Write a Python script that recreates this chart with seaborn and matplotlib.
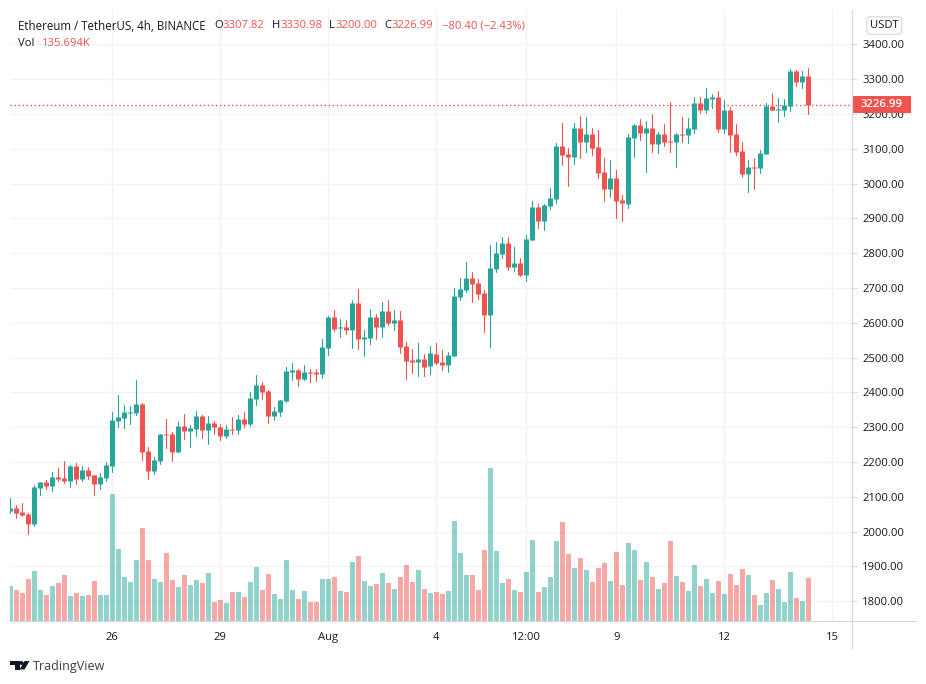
import matplotlib
matplotlib.use("Agg")
import matplotlib.pyplot as plt
from matplotlib.patches import FancyBboxPatch, Polygon, Circle, Rectangle
import numpy as np
import pandas as pd
import seaborn as sns

# ==== data (ETH/USDT, 4h candles) ====
opens = [2058, 2067, 2056, 2050, 2021, 2125, 2142, 2130, 2156, 2153, 2145, 2188, 2150, 2176, 2162, 2136, 2153,
         2188, 2317, 2326, 2340, 2340, 2366, 2231, 2173, 2202, 2280, 2280, 2228, 2303, 2288, 2294, 2331, 2291, 2311,
         2301, 2275, 2295, 2292, 2324, 2310, 2381, 2422, 2404, 2333, 2344, 2376, 2459, 2465, 2439, 2459, 2459, 2453,
         2528, 2617, 2585, 2588, 2580, 2657, 2554, 2557, 2617, 2588, 2634, 2600, 2608, 2534, 2494, 2488, 2496,
         2475, 2510, 2487, 2478, 2504, 2673, 2694, 2728, 2714, 2685, 2622, 2754, 2797, 2829, 2760, 2771, 2737,
         2837, 2932, 2892, 2935, 2955, 3107, 3084, 3076, 3161, 3118, 3141, 3104, 3033, 2984, 3015, 2952,
         2941, 3131, 3168, 3145, 3160, 3114, 3142, 3122, 3119, 3142, 3140, 3157, 3231, 3211, 3243, 3249, 3157, 3211,
         3142, 3094, 3027, 3048, 3045, 3085, 3223, 3211, 3211, 3223, 3323, 3292, 3307.82]
highs = [2096, 2076, 2081, 2053, 2133, 2142, 2148, 2171, 2182, 2202, 2191, 2196, 2188, 2185, 2162, 2168, 2199,
         2343, 2392, 2363, 2360, 2435, 2369, 2242, 2214, 2280, 2323, 2285, 2314, 2337, 2306, 2346, 2334, 2331, 2317,
         2310, 2307, 2330, 2335, 2344, 2402, 2450, 2430, 2407, 2358, 2379, 2473, 2485, 2468, 2479, 2468, 2468, 2554,
         2620, 2637, 2611, 2608, 2666, 2698, 2580, 2640, 2626, 2660, 2666, 2637, 2634, 2545, 2525, 2542, 2511,
         2533, 2541, 2521, 2515, 2699, 2728, 2774, 2745, 2725, 2694, 2823, 2831, 2846, 2846, 2817, 2785, 2852,
         2949, 2941, 2941, 2987, 3116, 3173, 3102, 3173, 3193, 3190, 3161, 3153, 3073, 3067, 3038, 2967,
         3142, 3171, 3185, 3180, 3200, 3148, 3171, 3234, 3145, 3191, 3188, 3249, 3249, 3275, 3257, 3266, 3240, 3220,
         3171, 3119, 3068, 3073, 3096, 3231, 3260, 3246, 3243, 3329, 3326, 3323, 3330.98]
lows = [2054, 2039, 2045, 1992, 2015, 2104, 2122, 2116, 2145, 2139, 2127, 2136, 2145, 2150, 2104, 2122, 2145,
        2171, 2300, 2297, 2308, 2334, 2205, 2150, 2165, 2194, 2240, 2202, 2228, 2265, 2242, 2274, 2268, 2251, 2280,
        2264, 2269, 2281, 2281, 2301, 2304, 2364, 2381, 2312, 2321, 2333, 2373, 2436, 2419, 2436, 2430, 2433, 2442,
        2508, 2577, 2560, 2568, 2528, 2525, 2505, 2540, 2554, 2560, 2594, 2580, 2514, 2439, 2456, 2448, 2448,
        2452, 2481, 2464, 2458, 2504, 2665, 2688, 2659, 2668, 2573, 2530, 2745, 2785, 2751, 2748, 2734, 2719,
        2837, 2872, 2866, 2926, 2944, 3053, 2992, 3056, 3072, 3092, 3081, 3015, 2949, 2961, 2900, 2892,
        2930, 3076, 3125, 3033, 3091, 3088, 3108, 3091, 3048, 3119, 3117, 3145, 3203, 3203, 3217, 3148, 3145, 3091,
        3082, 3019, 2976, 2984, 3030, 3085, 3211, 3177, 3194, 3208, 3280, 3275, 3200.00]
closes = [2067, 2054, 2047, 2021, 2127, 2142, 2130, 2156, 2150, 2145, 2188, 2150, 2176, 2159, 2136, 2156, 2191,
          2320, 2329, 2343, 2343, 2366, 2228, 2173, 2205, 2280, 2277, 2228, 2303, 2288, 2297, 2331, 2291, 2311, 2300,
          2275, 2295, 2292, 2324, 2310, 2384, 2422, 2402, 2333, 2347, 2379, 2462, 2465, 2439, 2459, 2456, 2453, 2531,
          2617, 2583, 2588, 2580, 2657, 2554, 2560, 2617, 2588, 2634, 2600, 2608, 2531, 2491, 2488, 2496, 2473,
          2512, 2484, 2478, 2507, 2676, 2696, 2728, 2711, 2682, 2622, 2757, 2800, 2829, 2760, 2771, 2737, 2840,
          2932, 2892, 2938, 2958, 3107, 3081, 3076, 3161, 3118, 3141, 3101, 3030, 2984, 3015, 2949, 2944,
          3134, 3168, 3145, 3160, 3114, 3142, 3119, 3119, 3142, 3140, 3160, 3231, 3211, 3246, 3249, 3157, 3211, 3140,
          3091, 3027, 3048, 3045, 3088, 3223, 3211, 3214, 3226, 3323, 3292, 3309, 3226.99]
# thousands
volumes = [111, 98, 89, 133, 158, 98, 82, 111, 120, 145, 79, 89, 79, 82, 126, 82, 82,
           399, 227, 139, 123, 192, 292, 192, 133, 123, 214, 129, 108, 145, 114, 129, 120, 151, 61,
           67, 57, 92, 92, 76, 123, 170, 98, 148, 86, 70, 192, 98, 70, 95, 61, 61, 133,
           133, 139, 95, 92, 186, 205, 126, 111, 117, 151, 120, 101, 139, 176, 123, 161, 101,
           89, 92, 86, 95, 314, 214, 145, 145, 98, 223, 480, 220, 120, 133, 98, 92, 155,
           255, 92, 108, 139, 252, 311, 211, 167, 198, 161, 123, 167, 183, 126, 217, 114,
           245, 223, 129, 186, 139, 101, 120, 252, 142, 123, 95, 176, 111, 133, 89, 126, 86, 148,
           114, 164, 145, 82, 51, 89, 129, 101, 61, 155, 73, 64, 135.694]
price_ticks = [1800, 1900, 2000, 2100, 2200, 2300, 2400, 2500, 2600, 2700, 2800, 2900, 3000, 3100, 3200, 3300, 3400]
time_ticks = [17, 35, 53, 71, 86, 101, 119, 137]
time_labels = ["26", "29", "Aug", "4", "12:00", "9", "12", "15"]
last_close = 3226.99

UP = "#26a69a"
DOWN = "#ef5350"
GRID = "#f1f2f4"
AXIS = "#d6d9e0"
INK = "#131722"
FONT = "Open Sans"

sns.set_theme(style="white")
plt.rcParams["font.family"] = [FONT, "DejaVu Sans"]

n = len(closes)
candles = pd.DataFrame({"idx": np.arange(n), "open": opens, "high": highs, "low": lows,
                        "close": closes, "volume": volumes})
candles["dir"] = np.where(candles["close"] >= candles["open"], "up", "down")
palette = {"up": UP, "down": DOWN}

# long form for lineplot: each candle is one vertical line
wicks = candles.melt(id_vars=["idx", "dir"], value_vars=["low", "high"], value_name="price")
bodies = candles.melt(id_vars=["idx", "dir"], value_vars=["open", "close"], value_name="price")

fig = plt.figure(figsize=(9.26, 6.84), dpi=100, facecolor="white")
W, H = 926, 684
ax = fig.add_axes([10 / W, (H - 621.3) / H, 842.3 / W, 611.3 / H])
ax_vol = ax.twinx()

sns.lineplot(data=wicks, x="idx", y="price", hue="dir", units="idx", estimator=None, sort=False,
             palette=palette, linewidth=0.8, legend=False, ax=ax)
sns.lineplot(data=bodies, x="idx", y="price", hue="dir", units="idx", estimator=None, sort=False,
             palette=palette, linewidth=3.6, solid_capstyle="butt", legend=False, ax=ax)
# seaborn's style puts white edges on patches, they would eat the bar width
sns.barplot(data=candles, x="idx", y="volume", hue="dir", palette=palette, native_scale=True, dodge=False,
            width=0.83, alpha=0.5, saturation=1, linewidth=0, edgecolor="none", legend=False, ax=ax_vol)

# dotted last price line
ax.axhline(last_close, color=DOWN, linewidth=1.0, linestyle=(0, (1, 1.9)), zorder=1)

ax.set_xlim(-0.055, 140.33)
ax.set_ylim(1742.5, 3498.6)
ax_vol.set_ylim(0, 1914.6)
ax_vol.set_yticks([])
ax_vol.set_ylabel("")
ax_vol.set_xlabel("")
ax_vol.patch.set_visible(False)
ax.set_xlabel("")
ax.set_ylabel("")

ax.yaxis.tick_right()
ax.set_yticks(price_ticks, [f"{p:.2f}" for p in price_ticks])
ax.set_xticks(time_ticks, time_labels)
ax.tick_params(axis="y", length=3.6, width=0.8, color=AXIS, labelcolor=INK, labelsize=8.1, pad=3.5)
ax.tick_params(axis="x", length=3, width=0.8, color=AXIS, labelcolor=INK, labelsize=8.1, pad=5)
ax.grid(True, color=GRID, linewidth=1.0)
ax.set_axisbelow(True)
for ax_ in (ax, ax_vol):
    for side in ("top", "left", "bottom", "right"):
        ax_.spines[side].set_visible(False)

# overlay in pixels for the chart furniture
ui = fig.add_axes([0, 0, 1, 1], zorder=5)
ui.set_xlim(0, W)
ui.set_ylim(H, 0)
ui.axis("off")
ui.plot([10, 915.7], [621.3, 621.3], color=AXIS, linewidth=0.9)
ui.plot([852.3, 852.3], [10, 648.7], color=AXIS, linewidth=0.9)

# last price tag
ui.add_patch(Rectangle((852, 96.3), 59, 16.6, facecolor=DOWN, edgecolor="none"))
ui.text(881.5, 104.4, f"{last_close:.2f}", color="white", fontsize=8.1, fontweight="semibold", ha="center", va="center")

# currency button
ui.add_patch(FancyBboxPatch((869, 19), 30.5, 13, boxstyle="round,pad=2.2,rounding_size=3.5",
                            facecolor="white", edgecolor="#d6d9e0", linewidth=0.9))
ui.text(884.2, 25.7, "USDT", color=INK, fontsize=8.1, ha="center", va="center")

# header
LEG_Y = 26
ui.text(18, LEG_Y, "Ethereum / TetherUS, 4h, BINANCE", color=INK, fontsize=8.3, va="center")
for x, label, val in [(214, "O", "3307.82"), (272, "H", "3330.98"), (329, "L", "3200.00"), (384, "C", "3226.99")]:
    ui.text(x, LEG_Y, label, color=INK, fontsize=8.1, va="center")
    ui.text(x + {"O": 8.5, "H": 8.5, "L": 6.5, "C": 7.5}[label], LEG_Y, val, color=DOWN, fontsize=8.1, va="center")
ui.text(442, LEG_Y, "\u221280.40 (\u22122.43%)", color=DOWN, fontsize=8.1, va="center")
ui.text(18, 43, "Vol", color=INK, fontsize=8.1, va="center")
ui.text(42, 43, "135.694K", color=DOWN, fontsize=8.1, va="center")

# logo
ui.add_patch(Polygon([(10, 661), (19.5, 661), (19.5, 669.5), (15, 669.5), (15, 665), (10, 665)], facecolor=INK, edgecolor="none"))
ui.add_patch(Circle((21.5, 663), 2, facecolor=INK, edgecolor="none"))
ui.add_patch(Polygon([(24.5, 661), (29.5, 661), (24.5, 669.5), (19.5, 669.5)], facecolor=INK, edgecolor="none"))
ui.text(33, 666.5, "TradingView", color="#3a3e4a", fontsize=9.0, va="center")

fig.savefig("out.png", dpi=100)
